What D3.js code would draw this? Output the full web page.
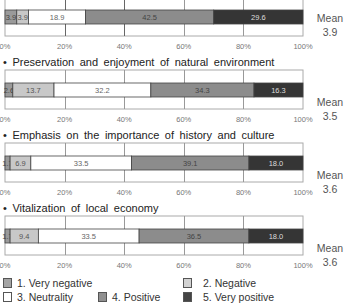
<!DOCTYPE html>
<html>
<head>
<meta charset="utf-8">
<script src="https://cdn.jsdelivr.net/npm/d3@7"></script>
<style>
  body { margin: 0; background: #fff; }
  svg { display: block; font-family: "Liberation Sans", Arial, sans-serif; }
</style>
</head>
<body>
<div class="chart"></div>
<script>
// data
var items = ["", "Preservation and enjoyment of natural environment",
  "Emphasis on the importance of history and culture", "Vitalization of local economy"];
var levels = ["1. Very negative", "2. Negative", "3. Neutrality", "4. Positive", "5. Very positive"];
var veryNegative = [3.9, 2.6, 1.7, 1.7];
var negative = [3.9, 13.7, 6.9, 9.4];
var neutrality = [18.9, 32.2, 33.5, 33.5];
var positive = [42.5, 34.3, 39.1, 36.5];
var veryPositive = [29.6, 16.3, 18.0, 18.0];
var means = ["3.9", "3.5", "3.6", "3.6"];
var ticks = [0, 20, 40, 60, 80, 100];

var W = 347, H = 305;
var fills = ["#9a9a9a", "#c8c8c8", "#ffffff", "#8c8c8c", "#353535"];
var legendFills = ["#a4a4a4", "#d2d2d2", "#ffffff", "#909090", "#444444"];
var labelColor = ["#444", "#555", "#666", "#444", "#ddd"];

var svg = d3.select(".chart").append("svg")
  .attr("width", W).attr("height", H);

var x = d3.scaleLinear().domain([0, 100]).range([5, 303]);
var series = [veryNegative, negative, neutrality, positive, veryPositive];

items.forEach(function(name, i) {
  var cy = 17 + i * 73;   // bar centre
  var g = svg.append("g");
  var rows = series.map(function(s) { return s[i]; });
  var total = d3.sum(rows);
  // segments fill the full box, so normalise to the row total
  var xs = d3.scaleLinear().domain([0, total]).range(x.range());

  // box + grid
  g.append("rect")
    .attr("x", x(0)).attr("y", cy - 20)
    .attr("width", x(100) - x(0)).attr("height", 39)
    .attr("fill", "none").attr("stroke", "#aaa");
  g.selectAll(".grid").data([20, 40, 60, 80]).enter()
    .append("line")
    .attr("x1", d => Math.round(x(d)) + 0.5).attr("x2", d => Math.round(x(d)) + 0.5)
    .attr("y1", cy - 20).attr("y2", cy + 19)
    .attr("stroke", d => (i == 0 && d < 50) ? "#666" : "#999");

  // stacked segments
  var start = 0;
  rows.forEach(function(v, k) {
    var x0 = xs(start), x1 = xs(start + v);
    g.append("rect")
      .attr("x", x0).attr("y", cy - 7)
      .attr("width", x1 - x0).attr("height", 14)
      .attr("fill", fills[k]).attr("stroke", "#444").attr("stroke-width", 0.8);
    g.append("text")
      .attr("x", (x0 + x1) / 2).attr("y", cy)
      .attr("dy", "0.35em").attr("text-anchor", "middle")
      .attr("font-size", 7.5).attr("fill", labelColor[k])
      .text(v.toFixed(1));
    start += v;
  });

  // axis labels
  g.selectAll(".tick").data(ticks).enter()
    .append("text")
    .attr("x", d => x(d)).attr("y", cy + 29)
    .attr("dy", "0.35em").attr("text-anchor", "middle")
    .attr("font-size", 7.5).attr("fill", "#777")
    .text(d => d + "%");

  // mean
  var my = (i == 0) ? cy + 1 : cy + 12;
  g.append("text").attr("x", 330).attr("y", my).attr("dy", "0.35em")
    .attr("text-anchor", "middle").attr("font-size", 10.5).attr("fill", "#555")
    .text("Mean");
  g.append("text").attr("x", 330).attr("y", my + 14).attr("dy", "0.35em")
    .attr("text-anchor", "middle").attr("font-size", 10.5).attr("fill", "#555")
    .text(means[i]);

  // title
  if (name) {
    g.append("text").attr("x", 3).attr("y", cy - 28).attr("dy", "0.35em")
      .attr("font-size", 11).attr("fill", "#222")
      .style("word-spacing", "2.5px")
      .text("\u2022 " + name);
  }
});

// legend
var legendPos = [[3, 283], [183, 283], [3, 297], [98, 297], [183, 297]];
levels.forEach(function(l, k) {
  var p = legendPos[k];
  svg.append("rect").attr("x", p[0] + 0.5).attr("y", p[1] - 4.5)
    .attr("width", 8).attr("height", 9)
    .attr("fill", legendFills[k]).attr("stroke", "#555");
  svg.append("text").attr("x", p[0] + (k == 1 || k == 4 ? 20 : 14)).attr("y", p[1])
    .attr("dy", "0.35em").attr("font-size", 10.5).attr("fill", "#333")
    .text(l);
});
</script>
</body>
</html>
